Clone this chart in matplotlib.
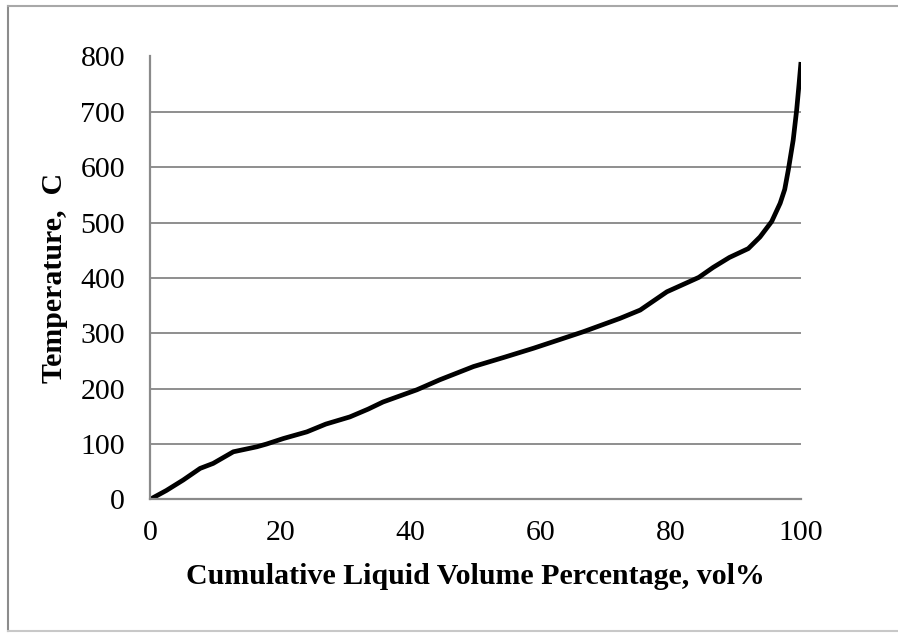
import matplotlib
matplotlib.use("Agg")
import matplotlib.pyplot as plt
from matplotlib.lines import Line2D

vol_pct = [0, 2.5, 5.1, 7.7, 9.7, 12.8, 16.4, 17.9, 20.5, 24.1, 27.0, 30.7,
           33.5, 35.8, 41.0, 44.5, 49.7, 54.5, 58.9, 62.5, 66.6, 72.2, 75.3,
           79.4, 84.3, 86.5, 89.0, 91.9, 93.7, 95.5, 96.8, 97.5, 98.05, 98.8,
           99.33, 99.7, 100]
temperature = [0, 16, 35, 56, 65, 86, 95, 100, 110, 122, 136, 149,
               163, 176, 198, 216, 240, 257, 273, 287, 303, 327, 342,
               375, 401, 419, 437, 453, 474, 502, 535, 560, 595, 649,
               703, 750, 790]
x_ticks = [0, 20, 40, 60, 80, 100]
y_ticks = [0, 100, 200, 300, 400, 500, 600, 700, 800]
x_title = "Cumulative Liquid Volume Percentage, vol%"
y_title = "Temperature,  C"

plt.rcParams['font.family'] = ['Liberation Serif', 'DejaVu Serif']

W, H = 898, 633
fig = plt.figure(figsize=(W / 100, H / 100), dpi=100)
fig.patch.set_facecolor('white')

# outer chart border (left, top, bottom; right edge falls outside the image)
def fx(p):
    return p / W

def fy(p):
    return 1 - p / H

fig.add_artist(Line2D([fx(8), fx(8)], [fy(6), fy(631)], transform=fig.transFigure,
                      color='#8c8c8c', linewidth=1.5))
fig.add_artist(Line2D([fx(8), fx(W + 5)], [fy(6), fy(6)], transform=fig.transFigure,
                      color='#a8a8a8', linewidth=1.5))
fig.add_artist(Line2D([fx(8), fx(W + 5)], [fy(631), fy(631)], transform=fig.transFigure,
                      color='#c8c8c8', linewidth=1.5))

left, right, top, bottom = 150, 801, 56.5, 499.4
ax = fig.add_axes([left / W, 1 - bottom / H, (right - left) / W, (bottom - top) / H])

ax.plot(vol_pct, temperature, color='black', linewidth=3.4, solid_capstyle='butt',
        solid_joinstyle='round')

ax.set_xlim(0, 100)
ax.set_ylim(0, 800)
ax.set_xticks(x_ticks)
ax.set_yticks(y_ticks)
ax.tick_params(axis='both', length=0, labelsize=21.5)
ax.tick_params(axis='x', pad=15)
ax.tick_params(axis='y', pad=18)

ax.grid(axis='y', color='#8e8e8e', linewidth=1.4)
ax.set_axisbelow(True)
for s in ['top', 'right']:
    ax.spines[s].set_visible(False)
for s in ['left', 'bottom']:
    ax.spines[s].set_color('#8a8a8a')
    ax.spines[s].set_linewidth(1.6)

ax.set_xlabel(x_title, fontsize=21.5, fontweight='bold', va='center')
ax.xaxis.set_label_coords(0.5, -0.175)
ax.set_ylabel(y_title, fontsize=21.5, fontweight='bold', va='center')
ax.yaxis.set_label_coords(-0.146, 0.5)

fig.savefig('out.png', dpi=100)
